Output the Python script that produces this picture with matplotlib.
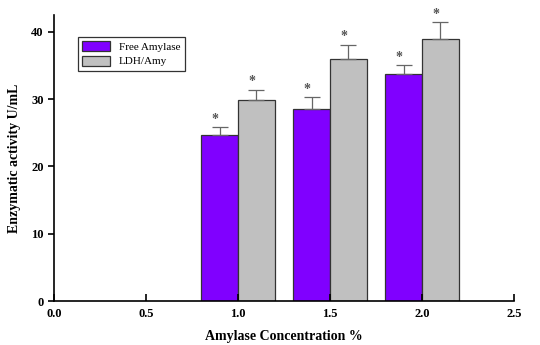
import numpy as np
import matplotlib.pyplot as plt

plt.rcParams['font.family'] = ['Liberation Serif', 'DejaVu Serif']

conc = [1.0, 1.5, 2.0]
free_amy = [24.7, 28.5, 33.8]
free_err = [1.1, 1.8, 1.2]
ldh_amy = [29.9, 35.9, 39.0]
ldh_err = [1.5, 2.2, 2.4]

fig = plt.figure(figsize=(5.4, 3.45), dpi=100)
ax = fig.add_axes([0.1, 0.1275, 0.852, 0.829])

w = 0.2
x = np.array(conc)
ax.bar(x - w/2, free_amy, w, color='#8000ff', edgecolor='#333333', lw=0.9, label='Free Amylase')
ax.bar(x + w/2, ldh_amy, w, color='#c0c0c0', edgecolor='#333333', lw=0.9, label='LDH/Amy')
ax.errorbar(x - w/2, free_amy, yerr=[np.zeros(3), free_err], fmt='none', ecolor='#666666',
            elinewidth=0.9, capsize=6, capthick=0.9)
ax.errorbar(x + w/2, ldh_amy, yerr=[np.zeros(3), ldh_err], fmt='none', ecolor='#666666',
            elinewidth=0.9, capsize=6, capthick=0.9)
for xi, yi, ei in zip(x - w/2, free_amy, free_err):
    ax.text(xi - 0.025, yi + ei + 0.2, '*', ha='center', va='bottom', fontsize=10,
            fontweight='bold', color='#555555')
for xi, yi, ei in zip(x + w/2, ldh_amy, ldh_err):
    ax.text(xi - 0.025, yi + ei + 0.2, '*', ha='center', va='bottom', fontsize=10,
            fontweight='bold', color='#555555')

ax.set_xlim(0, 2.5)
ax.set_ylim(0, 42.5)
ax.set_xticks([0.0, 0.5, 1.0, 1.5, 2.0, 2.5])
ax.set_xticklabels(['0.0', '0.5', '1.0', '1.5', '2.0', '2.5'])
ax.set_yticks([0, 10, 20, 30, 40])
ax.spines['top'].set_visible(False)
ax.spines['right'].set_visible(False)
ax.spines['left'].set_linewidth(1.2)
ax.spines['bottom'].set_linewidth(1.2)
ax.tick_params(axis='x', direction='in', length=5, width=1.2, labelsize=9, pad=5)
ax.tick_params(axis='y', direction='out', length=4, width=1.2, labelsize=9)
for lab in ax.get_xticklabels() + ax.get_yticklabels():
    lab.set_fontweight('bold')

ax.set_xlabel('Amylase Concentration %', fontsize=10, fontweight='bold', labelpad=7)
ax.set_ylabel('Enzymatic activity U/mL', fontsize=10, fontweight='bold', labelpad=7)

leg = ax.legend(loc='upper left', bbox_to_anchor=(0.052, 0.923), borderaxespad=0,
                fontsize=8, fancybox=False, edgecolor='#333333', framealpha=1,
                handlelength=2.5, handleheight=1.0, borderpad=0.4, labelspacing=0.3)
leg.get_frame().set_linewidth(0.9)

fig.savefig('out.png', dpi=100)
